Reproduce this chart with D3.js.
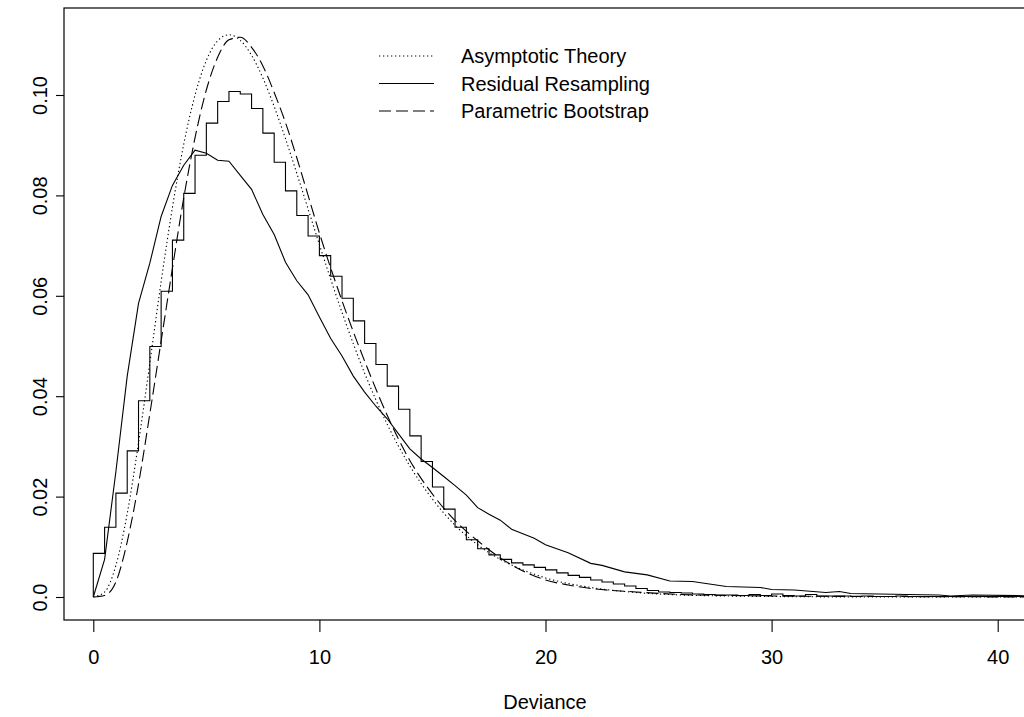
<!DOCTYPE html>
<html>
<head>
<meta charset="utf-8">
<script src="https://cdn.jsdelivr.net/npm/d3@7"></script>
<style>
  body { margin: 0; background: #fff; }
  svg { display: block; font-family: "Liberation Sans", Arial, Helvetica, sans-serif; }
</style>
</head>
<body>
<div id="chart"></div>
<script>
// Histogram of resampled deviances: bins of width 0.5 starting at 0
const binWidth = 0.5;
const histDensity = [
  0.0087, 0.0139, 0.0207, 0.0291, 0.0391, 0.0499, 0.0609, 0.0711, 0.0804, 0.0880,
  0.0944, 0.0987, 0.1007, 0.1002, 0.0973, 0.0924, 0.0866, 0.0809, 0.0760, 0.0719,
  0.0680, 0.0639, 0.0595, 0.0550, 0.0505, 0.0463, 0.0420, 0.0374, 0.0321, 0.0270,
  0.0219, 0.0175, 0.0139, 0.0114, 0.0096, 0.0084, 0.0075, 0.0068, 0.0064, 0.0059,
  0.0054, 0.0048, 0.0043, 0.0039, 0.0034, 0.0030, 0.0026, 0.0022, 0.0017, 0.0013,
  0.0010, 0.0009, 0.0008, 0.0006, 0.0005, 0.0004, 0.0004, 0.0003, 0.0005, 0.0003,
  0.0006, 0.0003, 0.0002, 0.0005, 0.0002, 0.0002, 0.0002, 0.0001, 0.0002, 0.0001,
  0.0001, 0.0002, 0.0001, 0.0001, 0.0001, 0.0001, 0.0001, 0.0001, 0.0001, 0.0001,
  0.0001, 0.0001, 0.0001, 0.0001
];

// Asymptotic theory (dotted)
const asymX = [0, 0.5, 1, 1.5, 2, 2.5, 3, 3.5, 4, 4.5, 5, 5.5, 6, 6.5, 7, 7.5, 8, 8.5, 9, 9.5,
  10, 11, 12, 13, 14, 15, 16, 17, 18, 19, 20, 22, 24, 26, 28, 30, 35, 42];
const asymY = [0, 0.0010, 0.0063, 0.0166, 0.0307, 0.0466, 0.0628, 0.0776, 0.0902, 0.1000,
  0.1069, 0.1108, 0.1120, 0.1109, 0.1079, 0.1034, 0.0977, 0.0913, 0.0844, 0.0773,
  0.0702, 0.0567, 0.0446, 0.0344, 0.0261, 0.0195, 0.0143, 0.0104, 0.0075, 0.0054,
  0.0038, 0.0019, 0.0009, 0.0004, 0.0002, 0.0001, 0.0000, 0.0000];

// Residual resampling (solid)
const residX = [0, 0.5, 1, 1.5, 2, 2.5, 3, 3.5, 4, 4.5, 5, 5.5, 6, 6.5, 7, 7.5, 8, 8.5, 9, 9.5,
  10, 10.5, 11, 11.5, 12, 12.5, 13, 13.5, 14, 14.5, 15, 15.5, 16, 16.5, 17, 17.5, 18, 18.5,
  19, 19.5, 20, 21, 22, 22.5, 23.5, 24.5, 25.5, 26.5, 28, 29.5, 30, 31, 32.4, 33, 33.5,
  36, 37.4, 37.9, 38.9, 42];
const residY = [0, 0.0075, 0.0250, 0.0440, 0.0585, 0.0665, 0.0758, 0.0820, 0.0860, 0.0890,
  0.0884, 0.0870, 0.0868, 0.0840, 0.0812, 0.0762, 0.0722, 0.0667, 0.0630, 0.0602,
  0.0558, 0.0515, 0.0480, 0.0440, 0.0408, 0.0380, 0.0355, 0.0325, 0.0295, 0.0275,
  0.0258, 0.0240, 0.0222, 0.0203, 0.0178, 0.0165, 0.0153, 0.0135, 0.0126, 0.0117,
  0.0104, 0.0088, 0.0067, 0.0063, 0.0050, 0.0044, 0.0032, 0.0031, 0.0021, 0.0019,
  0.0015, 0.0014, 0.0009, 0.0011, 0.0007, 0.0005, 0.0004, 0.0002, 0.0004, 0.0002];

// Parametric bootstrap (dashed)
const paramX = [0, 0.5, 1, 1.5, 2, 2.5, 3, 3.5, 4, 4.5, 5, 5.5, 6, 6.5, 7, 7.5, 8, 8.5, 9, 9.5,
  10, 11, 12, 13, 14, 15, 16, 17, 18, 19, 20, 21, 22, 24, 26, 28, 30, 35, 42];
const paramY = [0, 0.0003, 0.0030, 0.0110, 0.0225, 0.0365, 0.0510, 0.0655, 0.0795, 0.0915,
  0.1010, 0.1075, 0.1110, 0.1115, 0.1095, 0.1058, 0.1005, 0.0945, 0.0875, 0.0800,
  0.0725, 0.0590, 0.0470, 0.0362, 0.0272, 0.0205, 0.0152, 0.0112, 0.0078, 0.0052,
  0.0034, 0.0024, 0.0017, 0.0010, 0.0005, 0.0003, 0.0002, 0.0001, 0.0000];

const xTicks = [0, 10, 20, 30, 40];
const yTicks = [0, 0.02, 0.04, 0.06, 0.08, 0.10];
const yTickLabels = ["0.0", "0.02", "0.04", "0.06", "0.08", "0.10"];
const legendLabels = ["Asymptotic Theory", "Residual Resampling", "Parametric Bootstrap"];
const legendDash = ["1.3,2.7", null, "12,5"];

const width = 1024, height = 717;
const plot = { left: 64, top: 8, right: 1026, bottom: 620 };

const x = d3.scaleLinear().domain([0, 40]).range([93.3, 997.7]);
const y = d3.scaleLinear().domain([0, 0.1]).range([597, 95]);

const svg = d3.select("#chart").append("svg")
  .attr("width", width)
  .attr("height", height);

svg.append("defs").append("clipPath").attr("id", "plotclip")
  .append("rect")
  .attr("x", plot.left).attr("y", plot.top)
  .attr("width", plot.right - plot.left).attr("height", plot.bottom - plot.top);

const g = svg.append("g").attr("clip-path", "url(#plotclip)");

// histogram as a step line
const histPts = [[0, 0]].concat(histDensity.map((d, i) => [i * binWidth, d]));
histPts.push([histDensity.length * binWidth, histDensity[histDensity.length - 1]]);
g.append("path")
  .attr("d", d3.line().x(d => x(d[0])).y(d => y(d[1])).curve(d3.curveStepAfter)(histPts))
  .attr("fill", "none").attr("stroke", "#000").attr("stroke-width", 1.1);

function addCurve(xs, ys, dash, curve) {
  const pts = xs.map((v, i) => [v, ys[i]]);
  g.append("path")
    .attr("d", d3.line().x(d => x(d[0])).y(d => y(d[1])).curve(curve)(pts))
    .attr("fill", "none")
    .attr("stroke", "#000")
    .attr("stroke-width", 1.1)
    .attr("stroke-dasharray", dash);
}

addCurve(asymX, asymY, legendDash[0], d3.curveMonotoneX);
addCurve(residX, residY, legendDash[1], d3.curveLinear);
addCurve(paramX, paramY, legendDash[2], d3.curveMonotoneX);

// box round the plot
svg.append("rect")
  .attr("x", plot.left).attr("y", plot.top)
  .attr("width", plot.right - plot.left).attr("height", plot.bottom - plot.top)
  .attr("fill", "none").attr("stroke", "#000").attr("stroke-width", 1.2);

// x axis
const xAxis = svg.append("g")
  .attr("transform", `translate(0,${plot.bottom})`)
  .call(d3.axisBottom(x).tickValues(xTicks).tickSize(12).tickPadding(18).tickFormat(d3.format("d")));
xAxis.select(".domain").remove();
xAxis.selectAll("line").attr("stroke", "#000").attr("stroke-width", 1.1);
xAxis.selectAll("text").attr("font-size", 20).attr("fill", "#000")
  .attr("font-family", "Liberation Sans, Arial, sans-serif");

// y axis
const yAxis = svg.append("g")
  .attr("transform", `translate(${plot.left},0)`)
  .call(d3.axisLeft(y).tickValues(yTicks).tickSize(8).tickFormat((d, i) => yTickLabels[i]));
yAxis.select(".domain").remove();
yAxis.selectAll("line").attr("stroke", "#000").attr("stroke-width", 1.1);
yAxis.selectAll("text").remove();
yAxis.selectAll(".tick").append("text")
  .attr("transform", "translate(-17,0) rotate(-90)")
  .attr("text-anchor", "middle")
  .attr("font-size", 20)
  .attr("fill", "#000")
  .attr("font-family", "Liberation Sans, Arial, sans-serif")
  .text((d, i) => yTickLabels[i]);

// axis title
svg.append("text")
  .attr("x", (plot.left + plot.right) / 2)
  .attr("y", 709)
  .attr("text-anchor", "middle")
  .attr("font-size", 20)
  .text("Deviance");

// legend
const legend = svg.append("g");
legendLabels.forEach((lab, i) => {
  const ly = 56 + i * 27.5;
  legend.append("line")
    .attr("x1", 379).attr("x2", 434)
    .attr("y1", ly).attr("y2", ly)
    .attr("stroke", "#000").attr("stroke-width", 1.1)
    .attr("stroke-dasharray", legendDash[i]);
  legend.append("text")
    .attr("x", 461).attr("y", ly + 7)
    .attr("font-size", 20)
    .text(lab);
});
</script>
</body>
</html>
